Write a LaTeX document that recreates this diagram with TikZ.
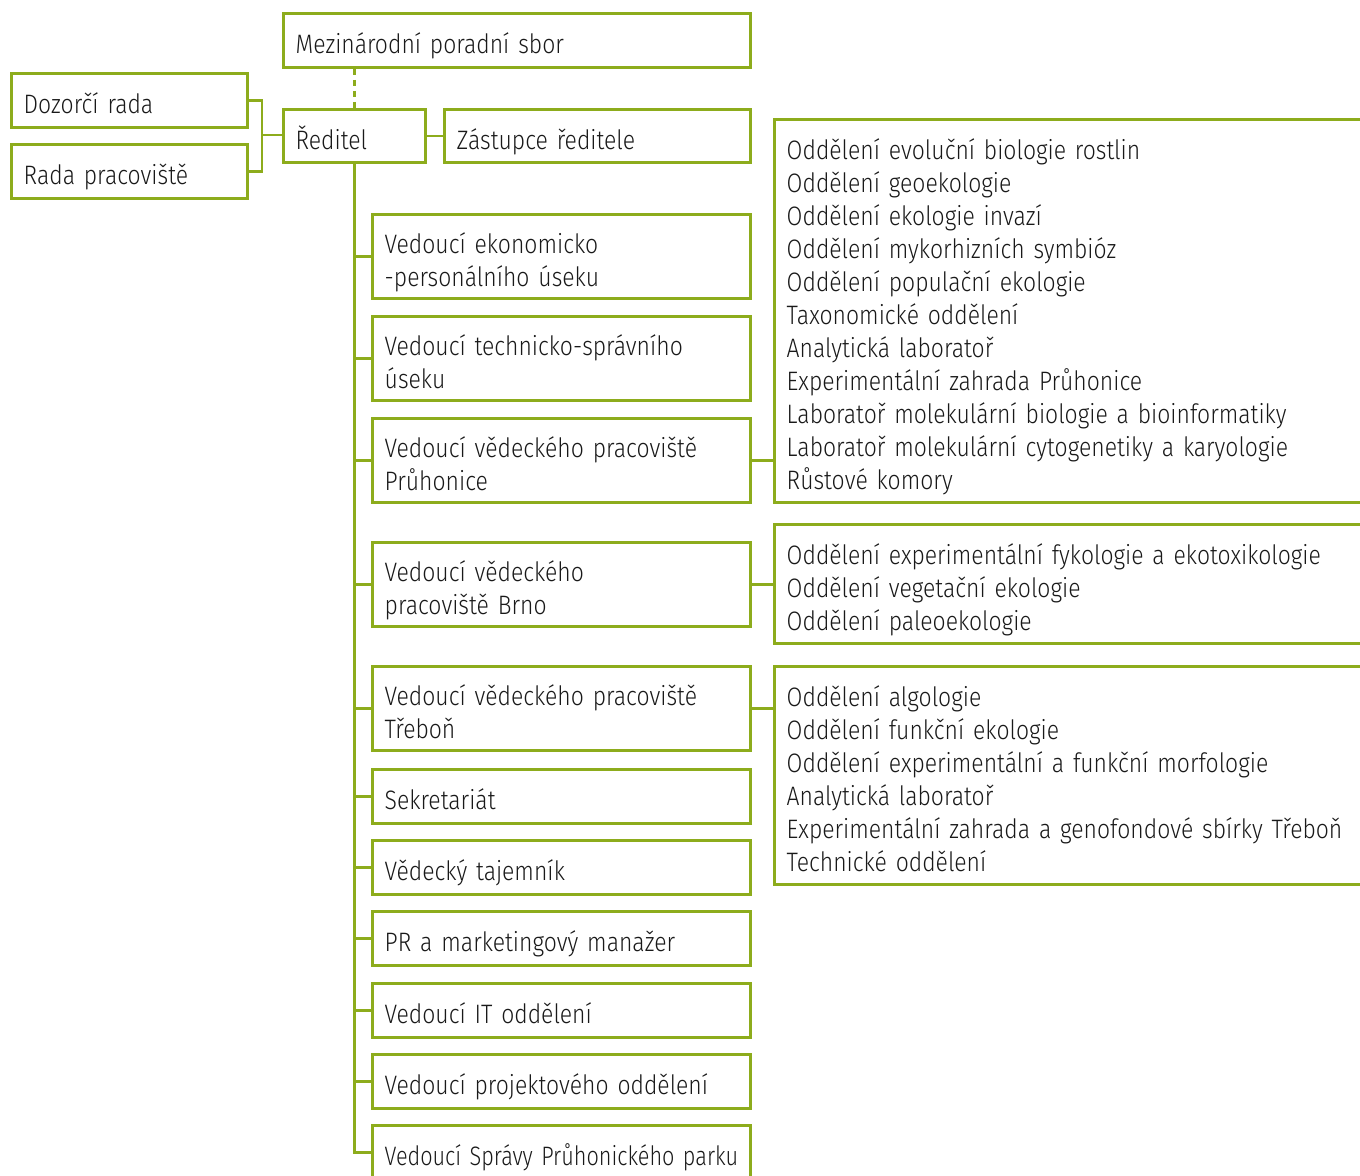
\documentclass[tikz,border=0pt]{standalone}
\usepackage{fontspec}
\usepackage{graphicx}
\setmainfont{Fira Sans}[FakeStretch=0.86, UprightFont=* Light]
\definecolor{olive}{HTML}{8DAC1C}
\begin{document}
\begin{tikzpicture}[x=0.75pt,y=-0.75pt,
  every node/.style={font=\fontsize{20}{24.75}\selectfont, text=black!90},
  box/.style={draw=olive, line width=2.2pt, anchor=north west, align=left,
    inner xsep=9.2pt, inner ysep=0pt,
    execute at begin node={\rule{0pt}{25pt}},
    execute at end node={\rule[-5pt]{0pt}{5pt}}},
  line/.style={draw=olive, line width=2.2pt}]
\useasboundingbox (0,0) rectangle (1360,1175);
\clip (0,0) rectangle (1360,1175);
% top
\node[box, minimum width=350.25pt, text width=331.85pt, minimum height=40.5pt] (mps) at (282,12) {Mezinárodní poradní sbor};
\node[box, minimum width=177pt, text width=158.6pt, minimum height=40.5pt] (doz) at (10,72) {Dozorčí rada};
\node[box, minimum width=177pt, text width=158.6pt, minimum height=40.5pt] (rada) at (10,143) {Rada pracoviště};
\node[box, minimum width=106.5pt, text width=88.1pt, minimum height=39.75pt] (red) at (282,108) {Ředitel};
\node[box, minimum width=229.5pt, text width=211.1pt, minimum height=39.75pt] (zas) at (443,108) {Zástupce ředitele};
% column
\tikzset{col/.style={box, minimum width=283.5pt, text width=265.1pt},
  two/.style={minimum height=63pt}, one/.style={minimum height=40.5pt}}
\node[col,two] (b1) at (371,213) {Vedoucí ekonomicko\\-personálního úseku};
\node[col,two] (b2) at (371,315) {Vedoucí technicko-správního\\úseku};
\node[col,two] (b3) at (371,417) {Vedoucí vědeckého pracoviště\\Průhonice};
\node[col,two] (b4) at (371,541) {Vedoucí vědeckého\\pracoviště Brno};
\node[col,two] (b5) at (371,665) {Vedoucí vědeckého pracoviště\\Třeboň};
\node[col,one] (b6) at (371,768) {Sekretariát};
\node[col,one] (b7) at (371,839) {Vědecký tajemník};
\node[col,one] (b8) at (371,910) {PR a marketingový manažer};
\node[col,one] (b9) at (371,982) {Vedoucí IT oddělení};
\node[col,one] (b10) at (371,1053) {Vedoucí projektového oddělení};
\node[col,one] (b11) at (371,1124) {\scalebox{0.945}[1]{Vedoucí Správy Průhonického parku}};
% right
\tikzset{rbox/.style={box, minimum width=480pt, text width=461.6pt}}
\node[rbox, minimum height=287.25pt] (ra) at (773,118) {Oddělení evoluční biologie rostlin\\Oddělení geoekologie\\Oddělení ekologie invazí\\Oddělení mykorhizních symbióz\\Oddělení populační ekologie\\Taxonomické oddělení\\Analytická laboratoř\\Experimentální zahrada Průhonice\\Laboratoř molekulární biologie a bioinformatiky\\Laboratoř molekulární cytogenetiky a karyologie\\Růstové komory};
\node[rbox, minimum height=89.25pt] (rb) at (773,523) {Oddělení experimentální fykologie a ekotoxikologie\\Oddělení vegetační ekologie\\Oddělení paleoekologie};
\node[rbox, minimum height=163.5pt] (rc) at (773,665) {Oddělení algologie\\Oddělení funkční ekologie\\Oddělení experimentální a funkční morfologie\\Analytická laboratoř\\Experimentální zahrada a genofondové sbírky Třeboň\\Technické oddělení};
% connectors
\draw[line, dash pattern=on 4.5pt off 3.75pt] (mps.south -| red.south) -- (red.north);
\coordinate (jl) at (262,135);
\draw[line] (doz.east) -| (jl) |- (rada.east);
\draw[line] (jl) -- (red.west |- jl);
\draw[line] (red.east) -- (zas.west);
\foreach \b in {b1,b2,b3,b4,b5,b6,b7,b8,b9,b10,b11}
  \draw[line] (red.south) |- (\b.west);
\draw[line] (b3.east) -- (b3.east -| ra.west);
\draw[line] (b4.east) -- (b4.east -| rb.west);
\draw[line] (b5.east) -- (b5.east -| rc.west);
\end{tikzpicture}
\end{document}
